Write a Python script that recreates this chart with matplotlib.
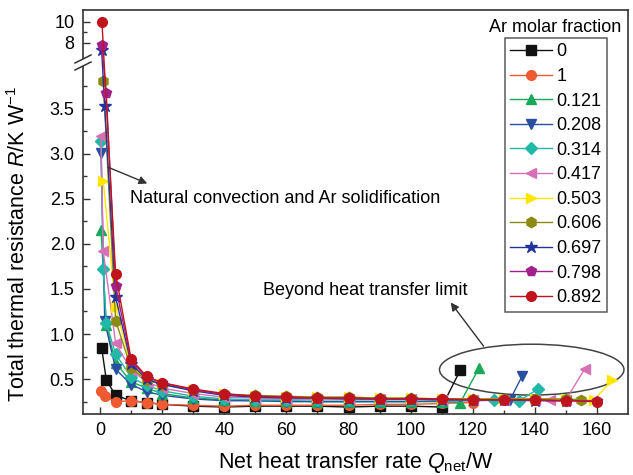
import numpy as np
import matplotlib
matplotlib.use('Agg')
import matplotlib.pyplot as plt
from matplotlib.patches import Ellipse, Polygon
from matplotlib.ticker import FixedLocator, NullFormatter

plt.rcParams['font.family'] = ['Liberation Sans', 'DejaVu Sans']
plt.rcParams['mathtext.fontset'] = 'custom'
plt.rcParams['mathtext.rm'] = 'Liberation Sans'
plt.rcParams['mathtext.it'] = 'Liberation Sans:italic'

# Ar molar fraction of each run, with net heat transfer rate Q (W)
# and total thermal resistance R (K/W)
labels = ['0', '1', '0.121', '0.208', '0.314', '0.417',
          '0.503', '0.606', '0.697', '0.798', '0.892']

q_0 = [0.5, 2, 5, 10, 15, 20, 30, 40, 50, 60, 70, 80, 90, 100, 110, 116]
r_0 = [0.85, 0.49, 0.32, 0.26, 0.24, 0.22, 0.2, 0.19, 0.2, 0.2, 0.2, 0.19,
       0.2, 0.2, 0.19, 0.6]

q_1 = [0.3, 1.5, 5, 10, 15, 20, 30, 40, 50, 60, 70, 80, 90, 100, 110, 120]
r_1 = [0.37, 0.31, 0.25, 0.26, 0.24, 0.22, 0.21, 0.2, 0.21, 0.21, 0.21,
       0.21, 0.22, 0.22, 0.23, 0.24]

q_121 = [0.3, 2, 5, 10, 15, 20, 30, 40, 50, 60, 70, 80, 90, 100, 110, 116, 122]
r_121 = [2.15, 1.1, 0.68, 0.47, 0.4, 0.34, 0.29, 0.27, 0.26, 0.26, 0.25,
         0.25, 0.25, 0.25, 0.25, 0.24, 0.62]

q_208 = [0.3, 1.5, 5, 10, 15, 20, 30, 40, 50, 60, 70, 80, 90, 100, 110, 120,
         132, 136]
r_208 = [3.01, 1.14, 0.61, 0.44, 0.36, 0.32, 0.28, 0.26, 0.26, 0.25, 0.25,
         0.25, 0.25, 0.25, 0.26, 0.26, 0.27, 0.54]

q_314 = [0.3, 1, 2, 5, 10, 15, 20, 30, 40, 50, 60, 70, 80, 90, 100, 110, 120,
         127, 135, 141]
r_314 = [3.14, 1.72, 1.12, 0.78, 0.52, 0.43, 0.37, 0.31, 0.28, 0.27, 0.27,
         0.27, 0.27, 0.27, 0.27, 0.27, 0.27, 0.27, 0.26, 0.39]

q_417 = [0.3, 1, 5, 10, 15, 20, 30, 40, 50, 60, 70, 80, 90, 100, 110, 120,
         130, 140, 145, 150, 156]
r_417 = [3.2, 1.92, 0.9, 0.6, 0.47, 0.4, 0.34, 0.3, 0.29, 0.28, 0.28, 0.28,
         0.28, 0.28, 0.27, 0.27, 0.27, 0.27, 0.27, 0.27, 0.61]

q_503 = [1, 5, 10, 15, 20, 30, 40, 50, 60, 70, 80, 90, 100, 110, 120, 130,
         140, 150, 159, 165]
r_503 = [2.7, 1.3, 0.64, 0.5, 0.45, 0.38, 0.33, 0.31, 0.3, 0.3, 0.3, 0.29,
         0.29, 0.28, 0.28, 0.28, 0.28, 0.28, 0.27, 0.49]

q_606 = [1, 5, 10, 15, 20, 30, 40, 50, 60, 70, 80, 90, 100, 110, 120, 130,
         140, 150, 155]
r_606 = [3.81, 1.15, 0.62, 0.49, 0.44, 0.38, 0.33, 0.32, 0.31, 0.3, 0.3,
         0.29, 0.29, 0.28, 0.28, 0.28, 0.28, 0.28, 0.27]

q_697 = [0.5, 1.5, 5, 10, 15, 20, 30, 40, 50, 60, 70, 80, 90, 100, 110, 120,
         130, 140, 150]
r_697 = [7.3, 3.53, 1.41, 0.67, 0.5, 0.44, 0.37, 0.32, 0.3, 0.29, 0.29, 0.28,
         0.28, 0.28, 0.27, 0.27, 0.27, 0.26, 0.26]

q_798 = [0.5, 2, 5, 10, 15, 20, 30, 40, 50, 60, 70, 80, 90, 100, 110, 120,
         130, 140, 150, 160]
r_798 = [7.8, 3.67, 1.53, 0.7, 0.52, 0.46, 0.38, 0.33, 0.31, 0.3, 0.29, 0.29,
         0.28, 0.28, 0.28, 0.27, 0.27, 0.27, 0.26, 0.26]

q_892 = [0.6, 5, 10, 15, 20, 30, 40, 50, 60, 70, 80, 90, 100, 110, 120, 130,
         140, 150, 160]
r_892 = [10.0, 1.67, 0.72, 0.53, 0.46, 0.39, 0.34, 0.31, 0.3, 0.29, 0.29,
         0.28, 0.28, 0.28, 0.27, 0.27, 0.27, 0.26, 0.25]

series = [(q_0, r_0), (q_1, r_1), (q_121, r_121), (q_208, r_208),
          (q_314, r_314), (q_417, r_417), (q_503, r_503), (q_606, r_606),
          (q_697, r_697), (q_798, r_798), (q_892, r_892)]
colors = ['#111111', '#f05a30', '#1aa85a', '#2a4fa0', '#22b8a8', '#d870b8',
          '#ffe600', '#8c8a10', '#22349a', '#a0208c', '#c0141c']
markers = ['s', 'o', '^', 'v', 'D', '<', '>', 'h', '*', 'p', 'o']
msizes = [7, 7, 7.5, 7.5, 6, 7.5, 7.5, 7.5, 9, 7.5, 7]

# broken y axis: linear up to B1, gap, then compressed above B2
B1, B2, K = 4.03, 6.30, 0.1173


def fwd(v):
    v = np.asarray(v, dtype=float)
    return np.where(v <= B1, v, np.where(v >= B2, B1 + (v - B2) * K, B1))


def inv(u):
    u = np.asarray(u, dtype=float)
    return np.where(u <= B1, u, B2 + (u - B1) / K)


fig = plt.figure(figsize=(6.33, 4.75), dpi=100)
ax = fig.add_axes([83 / 633, 1 - 414 / 475, 545 / 633, 404 / 475])
ax.set_yscale('function', functions=(fwd, inv))

for (q, r), lab, c, m, ms in zip(series, labels, colors, markers, msizes):
    ax.plot(q, r, color=c, marker=m, markersize=ms, lw=1.0,
            markeredgecolor=c, label=lab)

ax.set_xlim(-5.5, 170)
ax.set_ylim(0.113, 11.11)

ax.xaxis.set_major_locator(FixedLocator(np.arange(0, 161, 20)))
ax.xaxis.set_minor_locator(FixedLocator(np.arange(10, 161, 20)))
yt = [0.5, 1.0, 1.5, 2.0, 2.5, 3.0, 3.5, 8, 10]
ax.yaxis.set_major_locator(FixedLocator(yt))
ax.set_yticklabels(['0.5', '1.0', '1.5', '2.0', '2.5', '3.0', '3.5', '8', '10'])
ax.yaxis.set_minor_locator(FixedLocator(list(np.arange(0.25, 3.8, 0.5)) + [9]))
ax.yaxis.set_minor_formatter(NullFormatter())
ax.tick_params(which='both', direction='in', labelsize=13, color='#333333',
               top=False, right=False, pad=6)
ax.tick_params(which='major', length=5, width=1)
ax.tick_params(which='minor', length=3, width=1)
for s in ax.spines.values():
    s.set_color('#333333')
    s.set_linewidth(1.2)

ax.set_xlabel(r'Net heat transfer rate $Q_{\mathrm{net}}$/W', fontsize=15.5,
              labelpad=8)
ax.set_ylabel(r'Total thermal resistance $R$/K W$^{-1}$', fontsize=15.5)
ax.yaxis.set_label_coords(-0.097, 0.42)

# axis break marks on the left spine
px, py = 1 / 545, 1 / 404
yb1, yb2 = (414 - 66) / 404, (414 - 59) / 404
ax.add_patch(Polygon([(-8 * px, yb1 - 4 * py), (8 * px, yb1 + 4 * py),
                      (8 * px, yb2 + 4 * py), (-8 * px, yb2 - 4 * py)],
                     closed=True, facecolor='white', edgecolor='none',
                     transform=ax.transAxes, clip_on=False, zorder=5))
for yb in (yb1, yb2):
    ax.plot([-8 * px, 8 * px], [yb - 4 * py, yb + 4 * py], color='#333333',
            lw=1.1, transform=ax.transAxes, clip_on=False, zorder=6)

ax.annotate('', xy=(15.2, 2.67), xytext=(2.6, 2.85),
            arrowprops=dict(arrowstyle='-|>', color='#333333', lw=1,
                            mutation_scale=12, shrinkA=0, shrinkB=0))
ax.text(9.7, 2.5, 'Natural convection and Ar solidification', fontsize=13,
        va='center', ha='left')

ax.add_patch(Ellipse((139, 0.605), 59.4, 0.564, fill=False,
                     edgecolor='#444444', lw=1.1))
ax.annotate('', xy=(112.9, 1.35), xytext=(123.5, 0.865),
            arrowprops=dict(arrowstyle='-|>', color='#333333', lw=1,
                            mutation_scale=12, shrinkA=0, shrinkB=0))
ax.text(52.6, 1.485, 'Beyond heat transfer limit', fontsize=13,
        va='center', ha='left')

leg = ax.legend(loc='upper left', bbox_to_anchor=((505 - 83) / 545,
                                                  (414 - 38) / 404),
                borderaxespad=0, fontsize=13, frameon=True, fancybox=False,
                handlelength=2.3, handletextpad=0.25, labelspacing=0.42,
                borderpad=0.3)
leg.get_frame().set_edgecolor('#333333')
leg.get_frame().set_linewidth(1.1)
fig.text(555 / 633, 1 - 27 / 475, 'Ar molar fraction', fontsize=13,
         ha='center', va='center')

fig.savefig('out.png', dpi=100)
